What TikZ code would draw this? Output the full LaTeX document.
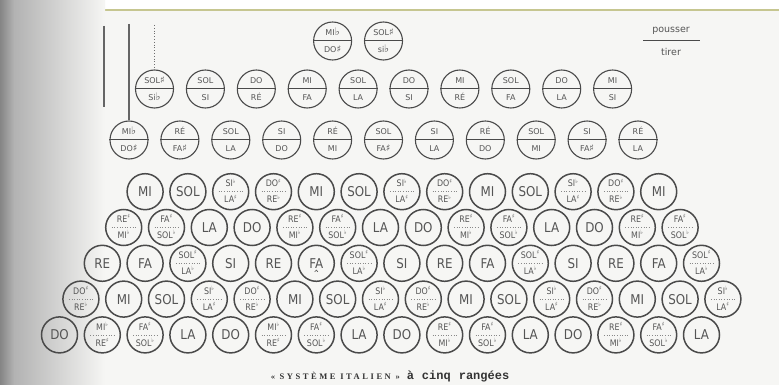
\documentclass[tikz,border=0pt]{standalone}
\usepackage{fontspec}
\setmainfont{DejaVu Sans}
\newfontfamily\trebfont[FakeStretch=0.88]{DejaVu Sans}
\newfontfamily\capserif{Liberation Serif}
\newfontfamily\captt{Liberation Mono}
\definecolor{bg}{HTML}{F6F6F4}
\definecolor{ink}{HTML}{4A4A4A}
\definecolor{txt}{HTML}{555555}
\definecolor{olivel}{HTML}{C6C690}
\newcommand\flt{\textsuperscript{♭}}
\newcommand\shp{\textsuperscript{♯}}
\newcommand\bfl{{\fontsize{10.5}{8}\selectfont ♭}}
\newcommand\bsh{{\fontsize{9.5}{8}\selectfont ♯}}
\tikzset{
  treb/.style={circle, draw=ink, line width=1.5pt, minimum size=36pt, inner sep=0pt},
  bass/.style={circle, draw=ink, line width=1.1pt, minimum size=38pt, inner sep=0pt},
  bassdiv/.style={draw=ink, line width=1pt},
  trebdiv/.style={draw=txt!70, line width=0.6pt, dotted},
  trebtxt/.style={inner sep=0pt, text=txt, font=\trebfont\fontsize{13.5}{13.5}\selectfont, text height=9.8pt, text depth=0pt},
  trebsm/.style={inner sep=0pt, text=txt, font=\trebfont\fontsize{9}{9}\selectfont, text height=6.5pt, text depth=0pt},
  basstxt/.style={inner sep=0pt, text=txt, font=\fontsize{8}{8}\selectfont, text height=5.8pt, text depth=0pt},
  lbl/.style={inner sep=0pt, text=txt, font=\fontsize{9.5}{9.5}\selectfont},
  vline/.style={draw=ink!85, line width=1.2pt},
}
\newcommand\bassbtn[5]{%
  \node[bass] (#1) at (#2,#3) {};
  \draw[bassdiv] (#1.west) -- (#1.east);
  \node[basstxt] (#1-t) at ([yshift=8.5pt]#1.center) {#4};
  \node[basstxt] (#1-b) at ([yshift=-8.5pt]#1.center) {#5};
}
\newcommand\trebbtn[6]{%
  \node[treb] (#1) at (#2,#3) {};
  \ifnum#6=1
    \node[trebtxt] (#1-t) at (#1.center) {#4};
  \else
    \draw[trebdiv] ([xshift=-12pt]#1.center) -- ([xshift=12pt]#1.center);
    \node[trebsm] (#1-t) at ([yshift=8pt]#1.center) {#4};
    \node[trebsm] (#1-b) at ([yshift=-8pt]#1.center) {#5};
  \fi
}
\begin{document}
\begin{tikzpicture}[x=1pt,y=-1pt]
\useasboundingbox (0,0) rectangle (779,385);
\fill[bg] (0,0) rectangle (779,385);
\fill[white] (0,0) rectangle (779,9);
\draw[olivel, line width=1.3pt] (0,10) -- (779,10);
\shade[left color=black!48, right color=black!30] (0,0) rectangle (14,385);
\shade[left color=black!30, right color=bg] (14,0) rectangle (105,385);

% bass rows
\foreach \nA/\nB [count=\i from 0] in {MI\bfl/DO\bsh, RÉ/FA\bsh, SOL/LA, SI/DO, RÉ/MI, SOL/FA\bsh, SI/LA, RÉ/DO, SOL/MI, SI/FA\bsh, RÉ/LA}
  {\bassbtn{b3-\i}{129+50.9*\i}{140}{\nA}{\nB}}
\foreach \nA/\nB [count=\i from 0] in {SOL\bsh/Si\bfl, SOL/SI, DO/RÉ, MI/FA, SOL/LA, DO/SI, MI/RÉ, SOL/FA, DO/LA, MI/SI}
  {\bassbtn{b2-\i}{154.5+50.9*\i}{89}{\nA}{\nB}}
\bassbtn{b1-0}{332.6}{41}{MI\bfl}{DO\bsh}
\bassbtn{b1-1}{383.5}{41}{SOL\bsh}{si\bfl}

% vertical lines
\coordinate (la-top) at (104,26);
\coordinate (la-bot) at (104,107);
\draw[vline, line width=1.6pt] (la-top) -- (la-bot);
\coordinate (lb-top) at (129,24);
\draw[vline] (lb-top) -- (b3-0.north);
\coordinate (lc-top) at (154.5,25);
\draw[draw=ink!80, line width=0.8pt, dotted] (lc-top) -- (b2-0.north);

% pousser / tirer
\node[lbl] (pousser) at (671,31) {pousser};
\node[lbl] (tirer) at (671,52) {tirer};
\coordinate (pt-l) at (643,40.5);
\coordinate (pt-r) at (700,40.5);
\draw[ink, line width=0.9pt] (pt-l) -- (pt-r);

% treble rows
\foreach \nA/\nB/\k [count=\i from 0] in {MI/x/1, SOL/x/1, SI\flt/LA\shp/2, DO\shp/RE\flt/2, MI/x/1, SOL/x/1, SI\flt/LA\shp/2, DO\shp/RE\flt/2, MI/x/1, SOL/x/1, SI\flt/LA\shp/2, DO\shp/RE\flt/2, MI/x/1}
  {\trebbtn{t4-\i}{145.1+42.8*\i}{191.7}{\nA}{\nB}{\k}}
\foreach \nA/\nB/\k [count=\i from 0] in {RE\shp/MI\flt/2, FA\shp/SOL\flt/2, LA/x/1, DO/x/1, RE\shp/MI\flt/2, FA\shp/SOL\flt/2, LA/x/1, DO/x/1, RE\shp/MI\flt/2, FA\shp/SOL\flt/2, LA/x/1, DO/x/1, RE\shp/MI\flt/2, FA\shp/SOL\flt/2}
  {\trebbtn{t5-\i}{123.7+42.8*\i}{227.5}{\nA}{\nB}{\k}}
\foreach \nA/\nB/\k [count=\i from 0] in {RE/x/1, FA/x/1, SOL\shp/LA\flt/2, SI/x/1, RE/x/1, FA/x/1, SOL\shp/LA\flt/2, SI/x/1, RE/x/1, FA/x/1, SOL\shp/LA\flt/2, SI/x/1, RE/x/1, FA/x/1, SOL\shp/LA\flt/2}
  {\trebbtn{t6-\i}{102.3+42.8*\i}{263.3}{\nA}{\nB}{\k}}
\foreach \nA/\nB/\k [count=\i from 0] in {DO\shp/RE\flt/2, MI/x/1, SOL/x/1, SI\flt/LA\shp/2, DO\shp/RE\flt/2, MI/x/1, SOL/x/1, SI\flt/LA\shp/2, DO\shp/RE\flt/2, MI/x/1, SOL/x/1, SI\flt/LA\shp/2, DO\shp/RE\flt/2, MI/x/1, SOL/x/1, SI\flt/LA\shp/2}
  {\trebbtn{t7-\i}{80.9+42.8*\i}{299.1}{\nA}{\nB}{\k}}
\foreach \nA/\nB/\k [count=\i from 0] in {DO/x/1, MI\flt/RE\shp/2, FA\shp/SOL\flt/2, LA/x/1, DO/x/1, MI\flt/RE\shp/2, FA\shp/SOL\flt/2, LA/x/1, DO/x/1, RE\shp/MI\flt/2, FA\shp/SOL\flt/2, LA/x/1, DO/x/1, RE\shp/MI\flt/2, FA\shp/SOL\flt/2, LA/x/1}
  {\trebbtn{t8-\i}{59.5+42.8*\i}{334.9}{\nA}{\nB}{\k}}

% small mark under FA
\draw[txt, line width=0.6pt] ([xshift=-1.6pt,yshift=-8.5pt]t6-5.center) -- ([yshift=-6.8pt]t6-5.center) -- ([xshift=1.6pt,yshift=-8.5pt]t6-5.center);

% caption
\node[inner sep=0pt, text=black!80, anchor=center] (caption) at (390,376)
  {{\capserif\bfseries\fontsize{8.5}{9}\selectfont\addfontfeature{LetterSpace=30}« SYSTÈME ITALIEN »}\hspace{7pt}{\captt\bfseries\fontsize{12}{12}\selectfont à\hspace{8pt}cinq\hspace{8pt}rangées}};
\end{tikzpicture}
\end{document}
